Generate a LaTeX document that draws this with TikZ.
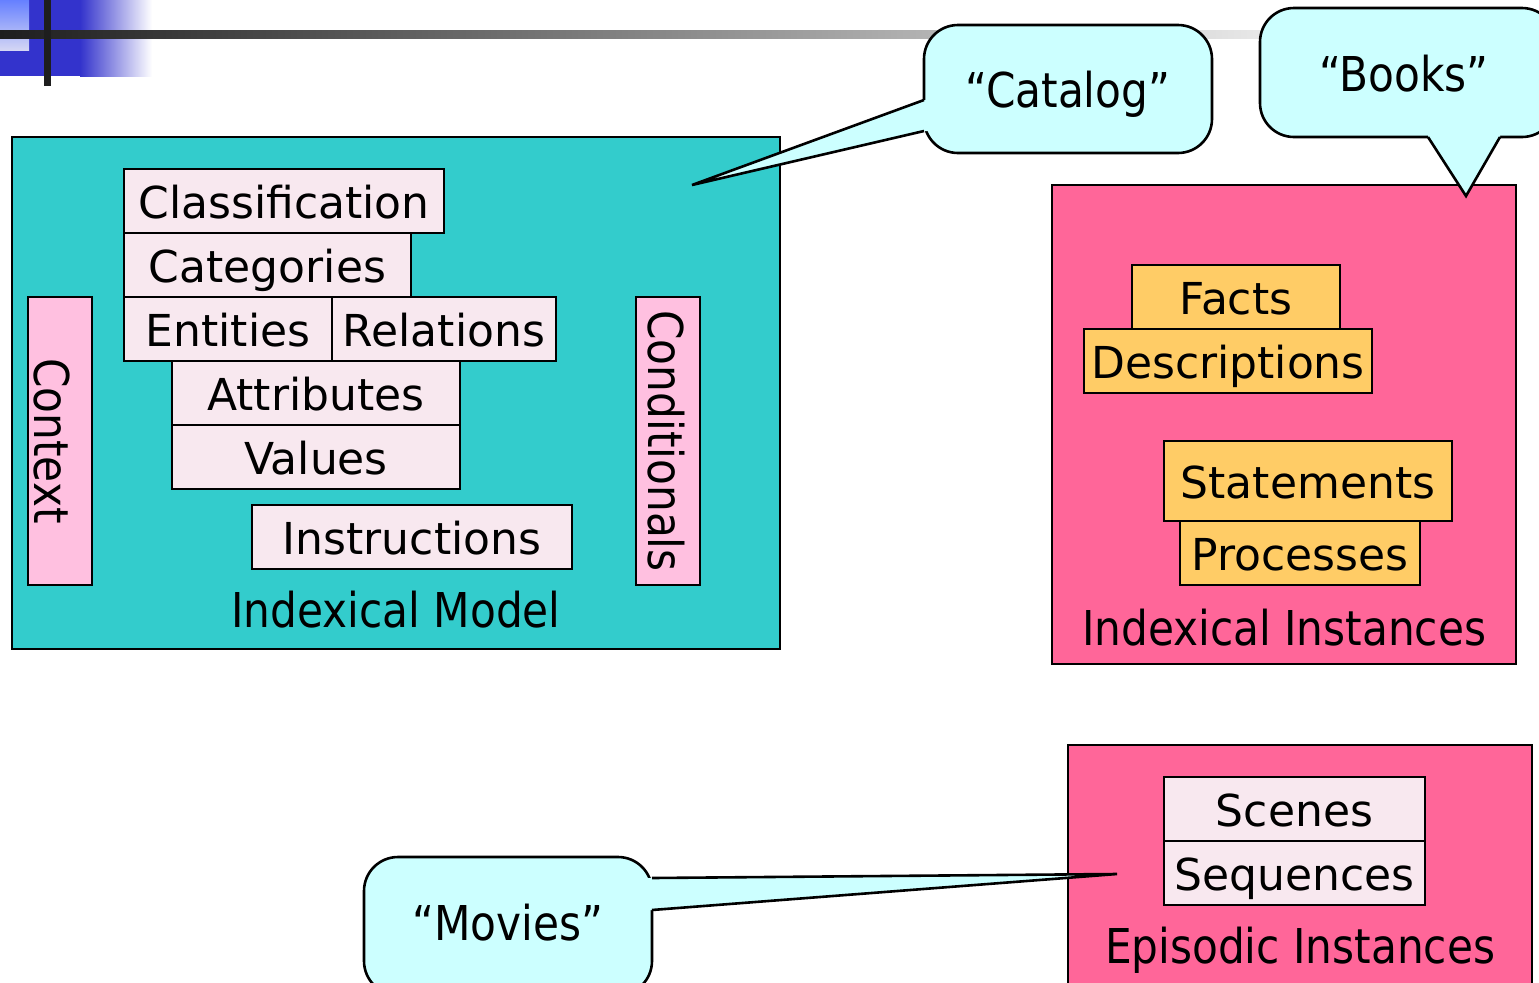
\documentclass[tikz,border=0pt]{standalone}
\usepackage{fontspec}
\setmainfont{DejaVu Sans}
\newfontfamily\labelfont{DejaVu Sans}[FakeStretch=0.88]
\newfontfamily\handfont{DejaVu Sans}
\usetikzlibrary{fit}

\definecolor{modelteal}{HTML}{33CCCC}
\definecolor{instpink}{HTML}{FF6699}
\definecolor{palepink}{HTML}{F8E8EF}
\definecolor{sidepink}{HTML}{FFC0E0}
\definecolor{factorange}{HTML}{FFCC66}
\definecolor{bubblecyan}{HTML}{CCFFFF}
\definecolor{decoblue}{HTML}{3333CC}
\definecolor{decolight}{HTML}{D4D6F4}
\definecolor{decosky}{HTML}{6680FF}
\definecolor{bardark}{HTML}{1E1E1E}
\definecolor{barlight}{HTML}{E8E8E8}

\tikzset{
  panel/.style={draw=black, line width=1.3pt, inner sep=0pt},
  modelpanel/.style={panel, fill=modelteal},
  instpanel/.style={panel, fill=instpink},
  termbox/.style={panel, fill=palepink},
  factbox/.style={panel, fill=factorange},
  sidebox/.style={panel, fill=sidepink},
  termtext/.style={font=\handfont\fontsize{22pt}{24pt}\selectfont, anchor=base, inner sep=0pt},
  sidetext/.style={font=\labelfont\fontsize{24pt}{26pt}\selectfont, rotate=-90, anchor=base, inner sep=0pt},
  paneltitle/.style={font=\labelfont\fontsize{24pt}{26pt}\selectfont, anchor=base, inner sep=0pt},
  bubble/.style={panel, fill=bubblecyan, rounded corners=17pt},
  bubbletext/.style={font=\labelfont\fontsize{24pt}{26pt}\selectfont, anchor=base, inner sep=0pt},
  tailfill/.style={fill=bubblecyan},
  tailline/.style={draw=black, line width=1.3pt, line join=miter},
}
% label set on the baseline 17px below a box centre
\newcommand{\boxlabel}[3]{\node[termtext] (#1) at ([yshift=-8.7pt]#2.center) {#3};}

\begin{document}
\begin{tikzpicture}[x=0.5pt, y=-0.5pt]
\useasboundingbox (0,0) rectangle (1539,982);

% title-bar ornament
\fill[decoblue] (0,0) rectangle (80,76);
\shade[left color=decoblue, right color=white] (80,0) rectangle (152,76);
\shade[top color=decosky, bottom color=decolight] (0,0) rectangle (29,50);
\shade[left color=bardark, right color=barlight] (0,30) rectangle (1262,38);
\fill[bardark] (44,0) rectangle (51,86);

% ---- Indexical Model ----
\node[modelpanel, fit={(12,137)(780,649)}] (model) {};
\node[termbox, fit={(124,169)(444,233)}] (classification) {};
\node[termbox, fit={(124,233)(411,297)}] (categories) {};
\node[termbox, fit={(124,297)(332,361)}] (entities) {};
\node[termbox, fit={(332,297)(556,361)}] (relations) {};
\node[termbox, fit={(172,361)(460,425)}] (attributes) {};
\node[termbox, fit={(172,425)(460,489)}] (values) {};
\node[termbox, fit={(252,505)(572,569)}] (instructions) {};
\boxlabel{classificationtext}{classification}{Classification}
\boxlabel{categoriestext}{categories}{Categories}
\boxlabel{entitiestext}{entities}{Entities}
\boxlabel{relationstext}{relations}{Relations}
\boxlabel{attributestext}{attributes}{Attributes}
\boxlabel{valuestext}{values}{Values}
\boxlabel{instructionstext}{instructions}{Instructions}
\node[sidebox, fit={(28,297)(92,585)}] (context) {};
\node[sidetext] (contexttext) at (34,441) {Context};
\node[sidebox, fit={(636,297)(700,585)}] (conditionals) {};
\node[sidetext] (conditionalstext) at (648,441) {Conditionals};
\node[paneltitle] (modeltitle) at (396,627) {Indexical Model};

% ---- Indexical Instances ----
\node[instpanel, fit={(1052,185)(1516,664)}] (instances) {};
\node[factbox, fit={(1132,265)(1340,329)}] (facts) {};
\node[factbox, fit={(1084,329)(1372,393)}] (descriptions) {};
\node[factbox, fit={(1164,441)(1452,521)}] (statements) {};
\node[factbox, fit={(1180,521)(1420,585)}] (processes) {};
\boxlabel{factstext}{facts}{Facts}
\boxlabel{descriptionstext}{descriptions}{Descriptions}
\boxlabel{statementstext}{statements}{Statements}
\boxlabel{processestext}{processes}{Processes}
\node[paneltitle] (instancestitle) at (1284,645) {Indexical Instances};

% ---- Episodic Instances ----
\node[instpanel, fit={(1068,745)(1532,995)}] (episodic) {};
\node[termbox, fit={(1164,777)(1425,841)}] (scenes) {};
\node[termbox, fit={(1164,841)(1425,905)}] (sequences) {};
\boxlabel{scenestext}{scenes}{Scenes}
\boxlabel{sequencestext}{sequences}{Sequences}
\node[paneltitle] (episodictitle) at (1300,963) {Episodic Instances};

% ---- speech bubbles ----
% "Catalog"
\node[bubble, fit={(924,25)(1212,153)}] (catalog) {};
\coordinate (catalogA) at (924,100);
\coordinate (catalogB) at (924,131);
\coordinate (catalogTip) at (692,185);
\fill[tailfill] (catalogA) -- (catalogTip) -- (catalogB) -- ([xshift=4pt]catalogB) -- ([xshift=4pt]catalogA) -- cycle;
\draw[tailline] (catalogA) -- (catalogTip) -- (catalogB);
\node[bubbletext] (catalogtext) at (1068,107) {“Catalog”};

% "Books"
\node[bubble, fit={(1260,8)(1556,137)}] (books) {};
\coordinate (booksA) at (1428,137);
\coordinate (booksB) at (1500,137);
\coordinate (booksTip) at (1466,196);
\fill[tailfill] (booksA) -- (booksTip) -- (booksB) -- ([yshift=4pt]booksB) -- ([yshift=4pt]booksA) -- cycle;
\draw[tailline] (booksA) -- (booksTip) -- (booksB);
\node[bubbletext] (bookstext) at (1404,91) {“Books”};

% "Movies"
\node[bubble, fit={(364,857)(652,995)}] (movies) {};
\coordinate (moviesA) at (652,878);
\coordinate (moviesB) at (652,910);
\coordinate (moviesTip) at (1117,874);
\fill[tailfill] (moviesA) -- (moviesTip) -- (moviesB) -- ([xshift=-4pt]moviesB) -- ([xshift=-4pt]moviesA) -- cycle;
\draw[tailline] (moviesA) -- (moviesTip) -- (moviesB);
\node[bubbletext] (moviestext) at (508,940) {“Movies”};
\end{tikzpicture}
\end{document}
